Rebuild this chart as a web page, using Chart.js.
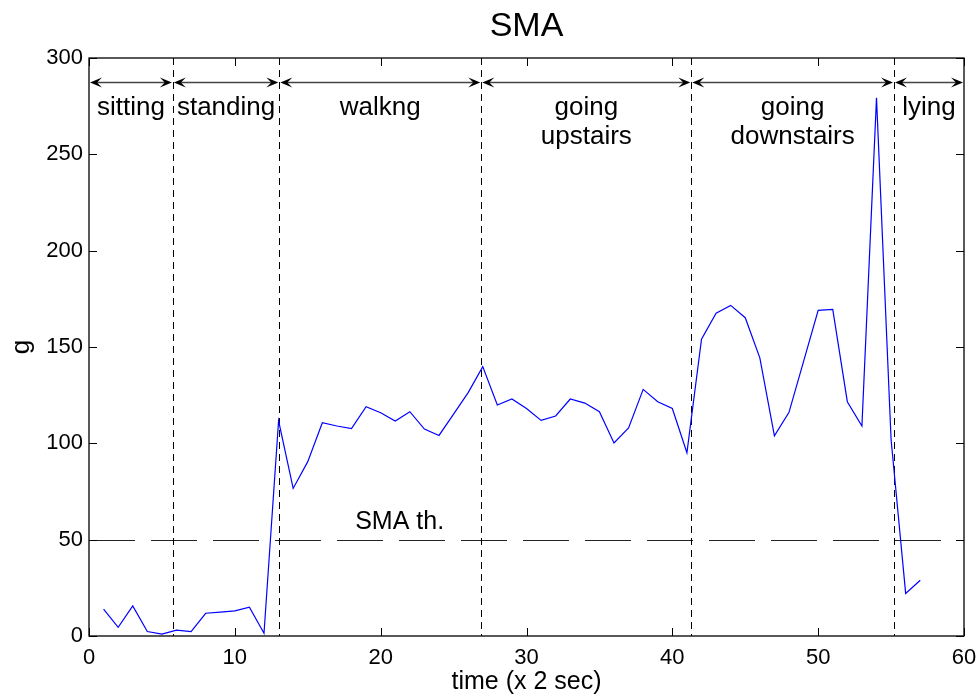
<!DOCTYPE html>
<html>
<head>
<meta charset="utf-8">
<script src="https://cdn.jsdelivr.net/npm/chart.js@4.4.1/dist/chart.umd.min.js"></script>
<style>
  html, body { margin: 0; padding: 0; background: #fff; }
  #wrap { width: 979px; height: 697px; position: relative; }
</style>
</head>
<body>
<div id="wrap"><canvas id="sma" width="979" height="697"></canvas></div>
<script>
// SMA samples, one every 2 seconds
var timeIdx = [];
for (var k = 1; k <= 57; k++) timeIdx.push(k);
var smaValues = [
  14, 4.5, 15.6, 2.3, 1, 3, 2.3, 11.8, 12.4, 13,
  15, 1.4, 111.7, 76.6, 90.5, 110.7, 109, 107.6, 119, 115.9,
  111.6, 116.4, 107.4, 104.1, 115.2, 126.3, 139.8, 119.9, 123, 118.1,
  111.9, 114.2, 123, 120.9, 116.4, 100.2, 108, 128, 121.6, 118.1,
  95.1, 154.1, 167.5, 171.6, 165.2, 144.4, 103.9, 116.1, 142.5, 169,
  169.5, 121.6, 109, 279.3, 102, 22.1, 28.9
];
var xTicks = [0, 10, 20, 30, 40, 50, 60];
var yTicks = [0, 50, 100, 150, 200, 250, 300];

// activity segments (boundaries on the time axis) and their names
var segBounds = [0, 5.75, 13.05, 26.9, 41.3, 55.2, 60];
var segLabels = [['sitting'], ['standing'], ['walkng'], ['going', 'upstairs'], ['going', 'downstairs'], ['lying']];
var arrowLevel = 287.5;
var labelLevels = [274, 259];

var smaThreshold = 50;
var thLabel = 'SMA th.';
var thLabelPos = [21.3, 59];

var FONT = '"Liberation Sans", Arial, sans-serif';

function arrowHead(ctx, x, y, dir) {
  // concave head pointing in dir (+1 right, -1 left)
  var len = 12, half = 5, notch = 7;
  ctx.beginPath();
  ctx.moveTo(x, y);
  ctx.lineTo(x - dir * len, y - half);
  ctx.lineTo(x - dir * notch, y);
  ctx.lineTo(x - dir * len, y + half);
  ctx.closePath();
  ctx.fill();
}

var decorations = {
  id: 'decorations',
  beforeDatasetsDraw: function (chart) {
    var ctx = chart.ctx, xs = chart.scales.x, ys = chart.scales.y, a = chart.chartArea;
    ctx.save();
    // threshold line
    ctx.strokeStyle = '#222';
    ctx.lineWidth = 1;
    ctx.setLineDash([46, 16]);
    var ty = Math.round(ys.getPixelForValue(smaThreshold)) + 0.5;
    ctx.beginPath();
    ctx.moveTo(a.left, ty);
    ctx.lineTo(a.right, ty);
    ctx.stroke();

    // segment boundaries
    ctx.strokeStyle = '#000';
    ctx.setLineDash([7, 5]);
    for (var i = 1; i < segBounds.length - 1; i++) {
      var bx = Math.round(xs.getPixelForValue(segBounds[i])) + 0.5;
      ctx.beginPath();
      ctx.moveTo(bx, a.top);
      ctx.lineTo(bx, a.bottom);
      ctx.stroke();
    }
    ctx.setLineDash([]);

    // double arrows over each segment
    var ay = Math.round(ys.getPixelForValue(arrowLevel)) + 0.5;
    ctx.strokeStyle = '#444';
    ctx.fillStyle = '#000';
    ctx.lineWidth = 1.5;
    for (var j = 0; j < segLabels.length; j++) {
      var x0 = xs.getPixelForValue(segBounds[j]) + 1;
      var x1 = xs.getPixelForValue(segBounds[j + 1]) - 1;
      ctx.beginPath();
      ctx.moveTo(x0 + 6, ay);
      ctx.lineTo(x1 - 6, ay);
      ctx.stroke();
      arrowHead(ctx, x0, ay, -1);
      arrowHead(ctx, x1, ay, 1);

      var cx = xs.getPixelForValue((segBounds[j] + segBounds[j + 1]) / 2);
      ctx.font = '26px ' + FONT;
      ctx.textAlign = 'center';
      ctx.textBaseline = 'middle';
      for (var m = 0; m < segLabels[j].length; m++) {
        ctx.fillText(segLabels[j][m], cx, ys.getPixelForValue(labelLevels[m]));
      }
    }

    ctx.font = '25px ' + FONT;
    ctx.fillText(thLabel, xs.getPixelForValue(thLabelPos[0]), ys.getPixelForValue(thLabelPos[1]));
    ctx.restore();
  },
  afterDraw: function (chart) {
    var ctx = chart.ctx, xs = chart.scales.x, ys = chart.scales.y, a = chart.chartArea;
    ctx.save();
    ctx.strokeStyle = '#000';
    ctx.lineWidth = 1.3;
    ctx.strokeRect(a.left, a.top, a.right - a.left, a.bottom - a.top);
    // inward ticks on all four sides
    var tl = 8;
    ctx.beginPath();
    xTicks.forEach(function (v) {
      var px = Math.round(xs.getPixelForValue(v)) + 0.5;
      ctx.moveTo(px, a.bottom); ctx.lineTo(px, a.bottom - tl);
      ctx.moveTo(px, a.top); ctx.lineTo(px, a.top + tl);
    });
    yTicks.forEach(function (v) {
      var py = Math.round(ys.getPixelForValue(v)) + 0.5;
      ctx.moveTo(a.left, py); ctx.lineTo(a.left + tl, py);
      ctx.moveTo(a.right, py); ctx.lineTo(a.right - tl, py);
    });
    ctx.lineWidth = 1;
    ctx.stroke();

    ctx.fillStyle = '#000';
    ctx.font = '34px ' + FONT;
    ctx.textAlign = 'center';
    ctx.textBaseline = 'middle';
    ctx.fillText('SMA', (a.left + a.right) / 2, 27);
    ctx.restore();
  }
};

new Chart(document.getElementById('sma'), {
  type: 'line',
  data: {
    labels: timeIdx,
    datasets: [{
      data: timeIdx.map(function (t, i) { return { x: t, y: smaValues[i] }; }),
      borderColor: '#0000ff',
      borderWidth: 1.2,
      pointRadius: 0,
      tension: 0,
      fill: false
    }]
  },
  options: {
    responsive: false,
    animation: false,
    devicePixelRatio: 1,
    layout: { padding: { top: 58, right: 15, left: 0, bottom: 0 } },
    plugins: { legend: { display: false }, tooltip: { enabled: false }, title: { display: false } },
    scales: {
      x: {
        type: 'linear',
        min: 0, max: 60,
        afterBuildTicks: function (s) { s.ticks = xTicks.map(function (v) { return { value: v }; }); },
        afterFit: function (s) { s.height = 61; s.paddingLeft = 0; s.paddingRight = 0; },
        grid: { display: false, drawTicks: false },
        border: { display: false },
        ticks: { color: '#000', padding: 9, font: { family: FONT, size: 22 }, maxRotation: 0 },
        title: { display: true, text: 'time (x 2 sec)', color: '#000', padding: { top: 0, bottom: 0 }, font: { family: FONT, size: 25 } }
      },
      y: {
        min: 0, max: 300,
        afterBuildTicks: function (s) { s.ticks = yTicks.map(function (v) { return { value: v }; }); },
        afterFit: function (s) { s.width = 89; s.paddingTop = 0; s.paddingBottom = 0; },
        grid: { display: false, drawTicks: false },
        border: { display: false },
        ticks: { color: '#000', padding: 6, font: { family: FONT, size: 22 } },
        title: { display: true, text: 'g', color: '#000', padding: { top: 6, bottom: 0 }, font: { family: FONT, size: 26 } }
      }
    }
  },
  plugins: [decorations]
});
</script>
</body>
</html>
